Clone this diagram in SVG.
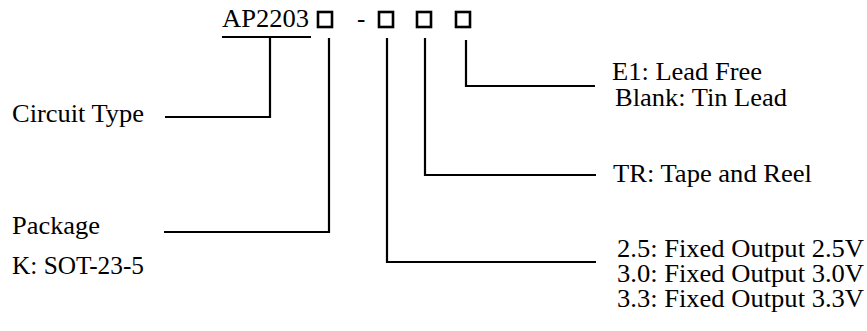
<svg xmlns="http://www.w3.org/2000/svg" width="867" height="331" viewBox="0 0 867 331">
<style>
text{font-family:"Liberation Serif","Times New Roman",serif;font-size:25px;fill:#000}
.ln{fill:none;stroke:#000;stroke-width:2.2}
.box{fill:none;stroke:#000;stroke-width:2.6}
</style>
<rect width="867" height="331" fill="#fff"/>
<g id="part">
<text x="222" y="27" textLength="87" lengthAdjust="spacingAndGlyphs">AP2203</text>
<line class="ln" x1="222" y1="37" x2="311" y2="37"/>
<rect class="box" x="318" y="12" width="14" height="15"/>
<text x="357" y="27">-</text>
<rect class="box" x="379" y="12" width="14" height="15"/>
<rect class="box" x="417" y="12" width="14" height="15"/>
<rect class="box" x="456" y="12" width="14" height="15"/>
</g>
<g id="connectors">
<polyline class="ln" points="270,37 270,117 165,117"/>
<polyline class="ln" points="329,38 329,232 164,232"/>
<polyline class="ln" points="387,38 387,262 596,262"/>
<polyline class="ln" points="425,38 425,175 596,175"/>
<polyline class="ln" points="466,40 466,86 595,86"/>
</g>
<g id="circuit-type"><text x="12" y="122" textLength="132" lengthAdjust="spacingAndGlyphs">Circuit Type</text></g>
<g id="package"><text x="12" y="234" textLength="88" lengthAdjust="spacingAndGlyphs">Package</text><text x="12" y="274" textLength="132" lengthAdjust="spacingAndGlyphs">K: SOT-23-5</text></g>
<g id="lead"><text x="612" y="80" textLength="150" lengthAdjust="spacingAndGlyphs">E1: Lead Free</text><text x="615" y="106" textLength="172" lengthAdjust="spacingAndGlyphs">Blank: Tin Lead</text></g>
<g id="tr"><text x="613" y="182" textLength="199" lengthAdjust="spacingAndGlyphs">TR: Tape and Reel</text></g>
<g id="output"><text x="617" y="257" textLength="247" lengthAdjust="spacingAndGlyphs">2.5: Fixed Output 2.5V</text><text x="617" y="282" textLength="247" lengthAdjust="spacingAndGlyphs">3.0: Fixed Output 3.0V</text><text x="617" y="307" textLength="247" lengthAdjust="spacingAndGlyphs">3.3: Fixed Output 3.3V</text></g>
</svg>
